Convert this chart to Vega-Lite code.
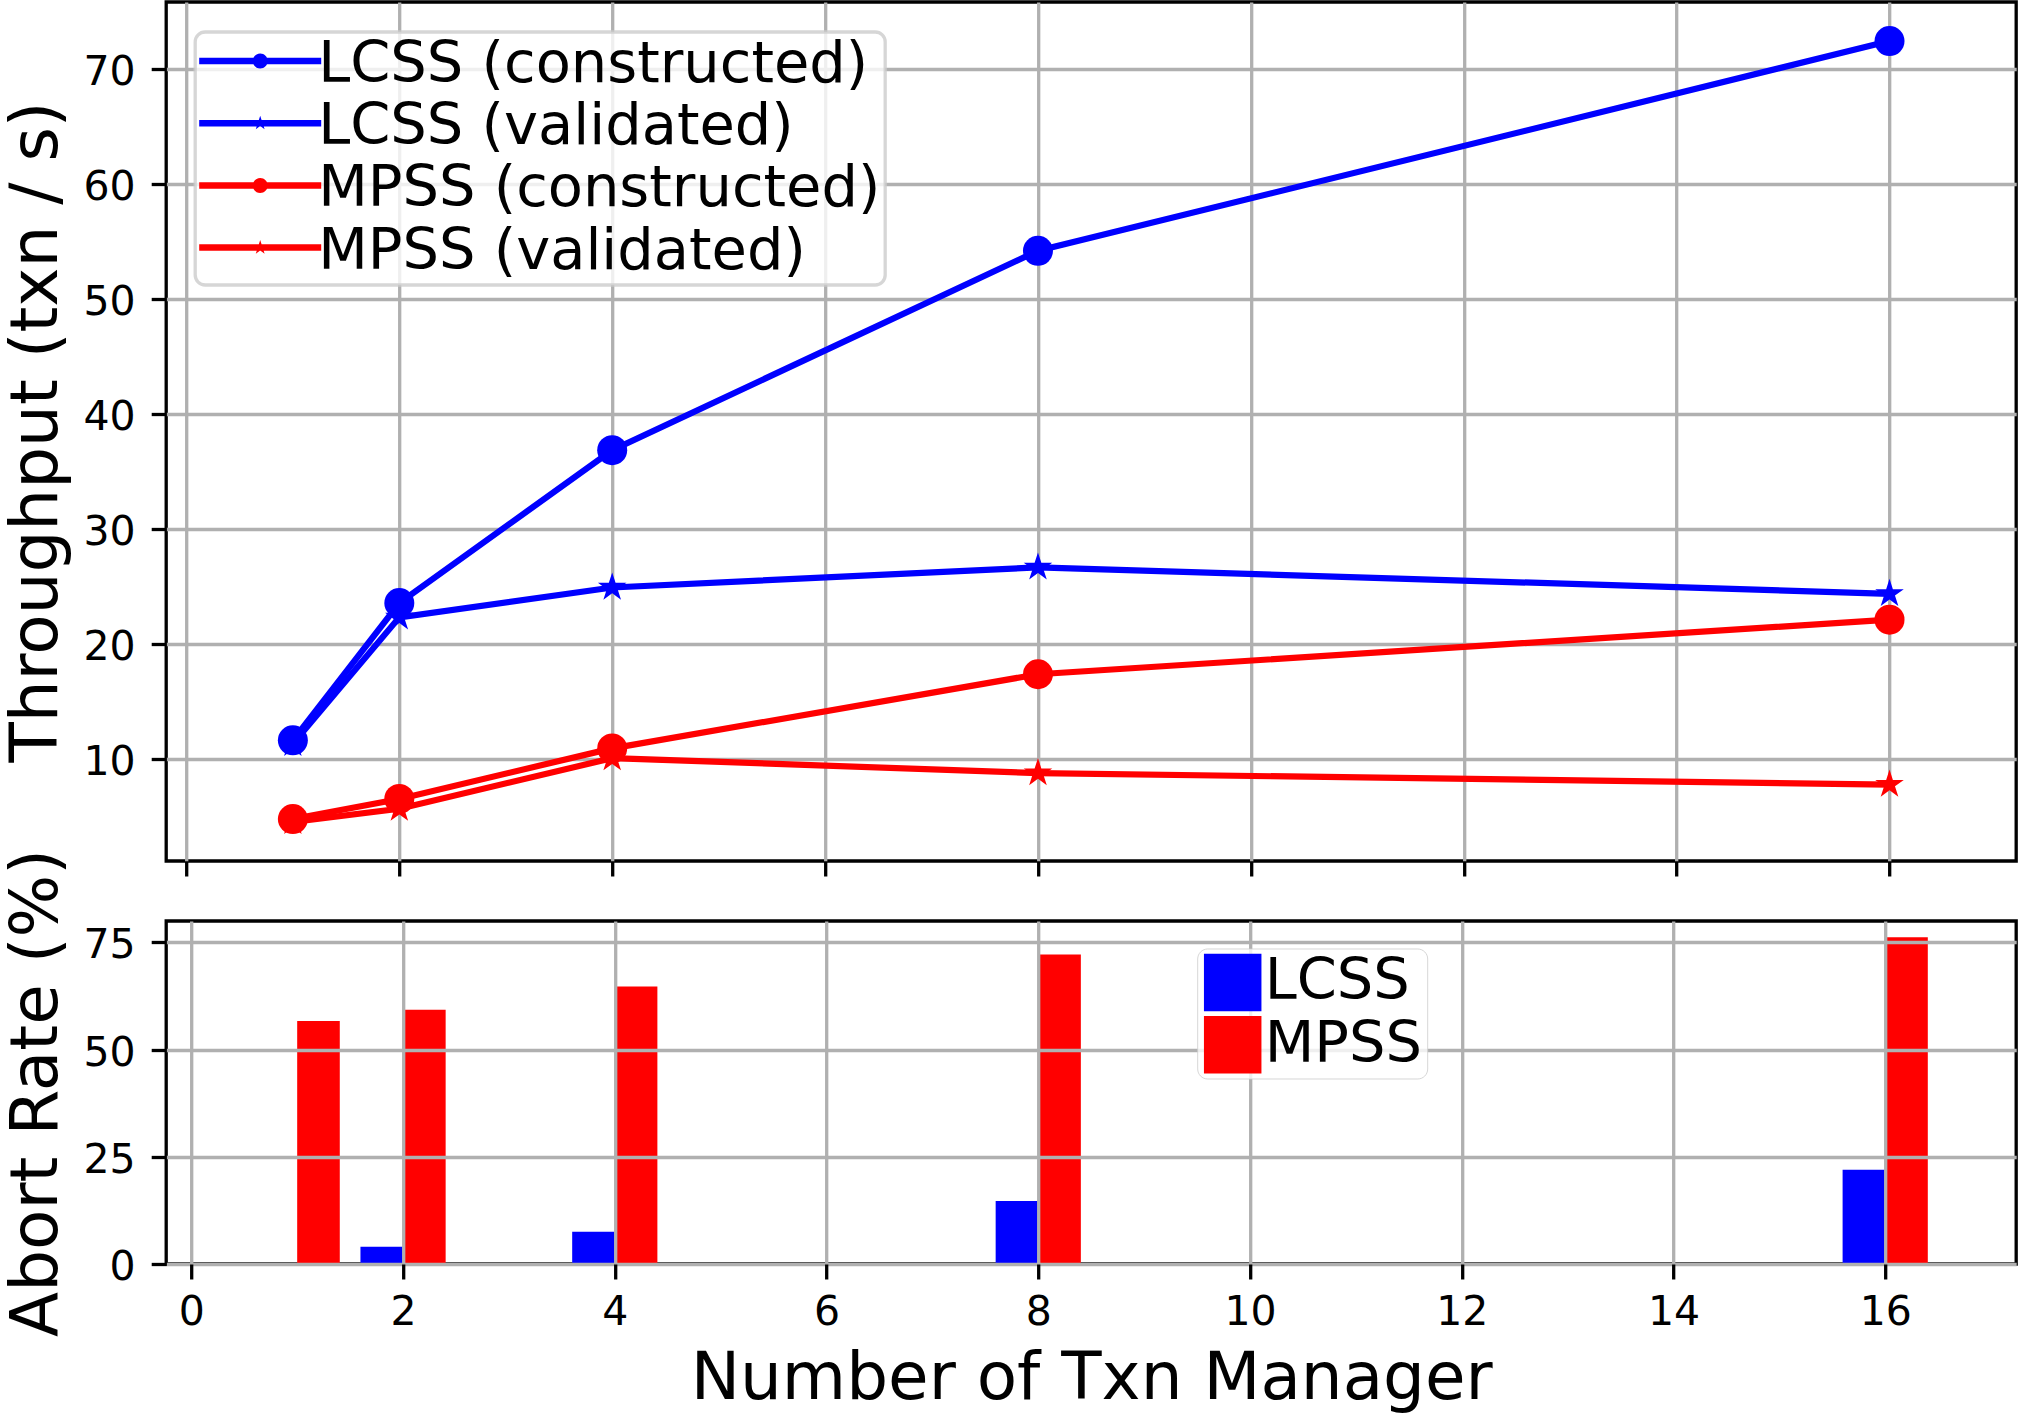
{
  "$schema": "https://vega.github.io/schema/vega-lite/v6.json",
  "background": "white",
  "padding": {"left": 1.2, "top": 0, "right": 0, "bottom": 0},
  "autosize": {"type": "pad"},
  "datasets": {
    "throughput": [
      {"managers": 1, "series": "LCSS (constructed)", "throughput": 11.6},
      {"managers": 2, "series": "LCSS (constructed)", "throughput": 23.55},
      {"managers": 4, "series": "LCSS (constructed)", "throughput": 36.85},
      {"managers": 8, "series": "LCSS (constructed)", "throughput": 54.2},
      {"managers": 16, "series": "LCSS (constructed)", "throughput": 72.45},
      {"managers": 1, "series": "LCSS (validated)", "throughput": 11.3},
      {"managers": 2, "series": "LCSS (validated)", "throughput": 22.3},
      {"managers": 4, "series": "LCSS (validated)", "throughput": 24.9},
      {"managers": 8, "series": "LCSS (validated)", "throughput": 26.65},
      {"managers": 16, "series": "LCSS (validated)", "throughput": 24.35},
      {"managers": 1, "series": "MPSS (constructed)", "throughput": 4.75},
      {"managers": 2, "series": "MPSS (constructed)", "throughput": 6.5},
      {"managers": 4, "series": "MPSS (constructed)", "throughput": 10.9},
      {"managers": 8, "series": "MPSS (constructed)", "throughput": 17.35},
      {"managers": 16, "series": "MPSS (constructed)", "throughput": 22.1},
      {"managers": 1, "series": "MPSS (validated)", "throughput": 4.5},
      {"managers": 2, "series": "MPSS (validated)", "throughput": 5.65},
      {"managers": 4, "series": "MPSS (validated)", "throughput": 10.05},
      {"managers": 8, "series": "MPSS (validated)", "throughput": 8.75},
      {"managers": 16, "series": "MPSS (validated)", "throughput": 7.75}
    ],
    "abort": [
      {"managers": 1, "system": "LCSS", "abort_rate": 0},
      {"managers": 2, "system": "LCSS", "abort_rate": 4.0},
      {"managers": 4, "system": "LCSS", "abort_rate": 7.55},
      {"managers": 8, "system": "LCSS", "abort_rate": 14.7},
      {"managers": 16, "system": "LCSS", "abort_rate": 22.0},
      {"managers": 1, "system": "MPSS", "abort_rate": 56.7},
      {"managers": 2, "system": "MPSS", "abort_rate": 59.3},
      {"managers": 4, "system": "MPSS", "abort_rate": 64.7},
      {"managers": 8, "system": "MPSS", "abort_rate": 72.2},
      {"managers": 16, "system": "MPSS", "abort_rate": 76.2}
    ]
  },
  "spacing": 60,
  "bounds": "flush",
  "resolve": {"scale": {"color": "independent"}, "legend": {"color": "independent"}},
  "vconcat": [
    {
      "width": 1850,
      "height": 859,
      "data": {"name": "throughput"},
      "encoding": {
        "x": {
          "field": "managers",
          "type": "quantitative",
          "scale": {"domain": [-0.19, 17.19], "nice": false, "zero": false},
          "axis": {"values": [0, 2, 4, 6, 8, 10, 12, 14, 16], "labels": false, "title": null}
        },
        "y": {
          "field": "throughput",
          "type": "quantitative",
          "scale": {"domain": [1.1, 75.85], "nice": false, "zero": false},
          "axis": {"values": [10, 20, 30, 40, 50, 60, 70], "title": "Throughput (txn / s)"}
        }
      },
      "layer": [
        {
          "mark": {"type": "line", "strokeWidth": 6.2},
          "encoding": {
            "color": {
              "field": "series",
              "type": "nominal",
              "scale": {
                "domain": ["LCSS (constructed)", "LCSS (validated)", "MPSS (constructed)", "MPSS (validated)"],
                "range": ["#0000ff", "#0000ff", "#ff0000", "#ff0000"]
              },
              "legend": {
                "title": null,
                "orient": "none",
                "legendX": 29,
                "legendY": 30,
                "direction": "vertical",
                "labelFont": "DejaVu Sans",
                "labelFontSize": 57.5,
                "labelColor": "#000000",
                "labelLimit": 2000,
                "labelOffset": 29,
                "symbolSize": 3306.25,
                "symbolOffset": 32,
                "symbolStrokeWidth": 0,
                "rowPadding": 4.2,
                "padding": 4,
                "cornerRadius": 10,
                "fillColor": "rgba(255,255,255,0.8)",
                "strokeColor": "rgba(204,204,204,0.8)",
                "zindex": 2,
                "encode": {
                  "legend": {"update": {"strokeWidth": {"value": 3.3}}},
                  "symbols": {
                    "update": {
                      "shape": {"signal": "test(/constructed/, datum.value) ? 'M-2.122,-0.252L2.122,-0.252L2.122,-0.026L-2.122,-0.026Z M-0.261,-0.139A0.261,0.261 0 1,1 0.261,-0.139A0.261,0.261 0 1,1 -0.261,-0.139Z' : 'M-2.122,-0.252L2.122,-0.252L2.122,-0.026L-2.122,-0.026Z M0,-0.4L0.0586,-0.2197L0.248,-0.2197L0.0948,-0.1082L0.1534,0.0722L0,-0.0393L-0.1534,0.0722L-0.0948,-0.1082L-0.248,-0.2197L-0.0586,-0.2197Z'"},
                      "fill": {"signal": "test(/LCSS/, datum.value) ? '#0000ff' : '#ff0000'"},
                      "fillOpacity": {"value": 1},
                      "stroke": {"value": "transparent"},
                      "strokeWidth": {"value": 0},
                      "opacity": {"value": 1}
                    }
                  }
                }
              }
            }
          }
        },
        {
          "mark": {"type": "point", "filled": true, "size": 900, "opacity": 1},
          "encoding": {
            "color": {"field": "series", "type": "nominal"},
            "shape": {
              "field": "series",
              "type": "nominal",
              "scale": {
                "domain": ["LCSS (constructed)", "LCSS (validated)", "MPSS (constructed)", "MPSS (validated)"],
                "range": [
                  "circle",
                  "M0,-1L0.2245,-0.309L0.9511,-0.309L0.3633,0.118L0.5878,0.809L0,0.382L-0.5878,0.809L-0.3633,0.118L-0.9511,-0.309L-0.2245,-0.309Z",
                  "circle",
                  "M0,-1L0.2245,-0.309L0.9511,-0.309L0.3633,0.118L0.5878,0.809L0,0.382L-0.5878,0.809L-0.3633,0.118L-0.9511,-0.309L-0.2245,-0.309Z"
                ]
              },
              "legend": null
            }
          }
        }
      ]
    },
    {
      "width": 1850,
      "height": 343,
      "data": {"name": "abort"},
      "encoding": {
        "x": {
          "field": "managers",
          "type": "quantitative",
          "scale": {"domain": [-0.19, 17.19], "nice": false, "zero": false},
          "axis": {"values": [0, 2, 4, 6, 8, 10, 12, 14, 16], "title": "Number of Txn Manager", "titleY": 135, "titleBaseline": "alphabetic", "zindex": 1}
        },
        "y": {
          "field": "abort_rate",
          "type": "quantitative",
          "scale": {"domain": [0, 80], "nice": false},
          "axis": {"values": [0, 25, 50, 75], "title": "Abort Rate (%)", "zindex": 1}
        },
        "color": {
          "field": "system",
          "type": "nominal",
          "scale": {"domain": ["LCSS", "MPSS"], "range": ["#0000ff", "#ff0000"]},
          "legend": {
            "title": null,
            "orient": "none",
            "legendX": 1031,
            "legendY": 27.5,
            "direction": "vertical",
            "labelFont": "DejaVu Sans",
            "labelFontSize": 57.5,
            "labelColor": "#000000",
            "labelLimit": 2000,
            "labelOffset": 3,
            "symbolSize": 3306.25,
            "symbolOffset": 1.5,
            "symbolStrokeWidth": 0,
            "rowPadding": 4.2,
            "padding": 5,
            "cornerRadius": 10,
            "fillColor": "rgba(255,255,255,0.8)",
            "strokeColor": "rgba(204,204,204,0.8)",
            "zindex": 2,
            "encode": {
              "legend": {"update": {"strokeWidth": {"value": 3.3}}},
              "symbols": {
                "update": {
                  "shape": {"value": "M-1.009,-0.852L1.009,-0.852L1.009,0.574L-1.009,0.574Z"},
                  "fill": {"signal": "datum.value === 'LCSS' ? '#0000ff' : '#ff0000'"},
                  "fillOpacity": {"value": 1},
                  "stroke": {"value": "transparent"},
                  "strokeWidth": {"value": 0},
                  "opacity": {"value": 1}
                }
              }
            }
          }
        }
      },
      "layer": [
        {
          "transform": [{"filter": "datum.system === 'LCSS'"}],
          "mark": {"type": "bar", "orient": "vertical", "width": 42.6, "xOffset": -21.3, "opacity": 1}
        },
        {
          "transform": [{"filter": "datum.system === 'MPSS'"}],
          "mark": {"type": "bar", "orient": "vertical", "width": 42.6, "xOffset": 21.3, "opacity": 1}
        }
      ]
    }
  ],
  "config": {
    "font": "DejaVu Sans",
    "view": {"stroke": "#000000", "strokeWidth": 3.3},
    "axis": {
      "labelFont": "DejaVu Sans",
      "labelFontSize": 41,
      "labelColor": "#000000",
      "titleFont": "DejaVu Sans",
      "titleFontSize": 66,
      "titleFontWeight": "normal",
      "titleColor": "#000000",
      "tickColor": "#000000",
      "tickWidth": 3.3,
      "tickSize": 15,
      "domain": false,
      "grid": true,
      "gridColor": "#b0b0b0",
      "gridWidth": 3.3,
      "gridOpacity": 1
    },
    "axisX": {"labelPadding": 13.5, "labelFlush": false},
    "axisY": {"labelPadding": 16, "labelOffset": 3.5, "titleX": -110, "titleBaseline": "alphabetic"}
  }
}
